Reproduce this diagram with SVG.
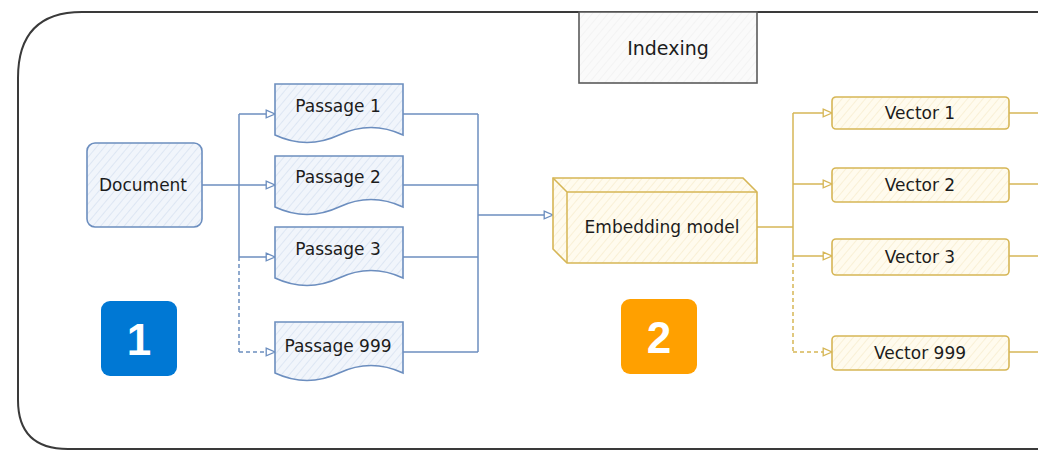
<svg xmlns="http://www.w3.org/2000/svg" width="1038" height="452" viewBox="0 0 1038 452">
  <defs>
    <pattern id="hatchBlue" width="6" height="6" patternUnits="userSpaceOnUse" patternTransform="rotate(40)">
      <rect width="6" height="6" fill="#f1f5fb"/>
      <line x1="0" y1="0" x2="0" y2="6" stroke="#c9d7ec" stroke-width="1"/>
    </pattern>
    <pattern id="hatchYellow" width="6" height="6" patternUnits="userSpaceOnUse" patternTransform="rotate(40)">
      <rect width="6" height="6" fill="#fffbee"/>
      <line x1="0" y1="0" x2="0" y2="6" stroke="#f3e6bf" stroke-width="1"/>
    </pattern>
    <pattern id="hatchGray" width="6" height="6" patternUnits="userSpaceOnUse" patternTransform="rotate(40)">
      <rect width="6" height="6" fill="#fafafa"/>
      <line x1="0" y1="0" x2="0" y2="6" stroke="#ececec" stroke-width="1"/>
    </pattern>
    <marker id="arrowBlue" viewBox="0 0 10 10" refX="9" refY="5" markerWidth="11" markerHeight="11" markerUnits="userSpaceOnUse" orient="auto">
      <path d="M1,1.5 L9,5 L1,8.5 Z" fill="#ffffff" stroke="#6c8ebf" stroke-width="1.2"/>
    </marker>
    <marker id="arrowYellow" viewBox="0 0 10 10" refX="9" refY="5" markerWidth="11" markerHeight="11" markerUnits="userSpaceOnUse" orient="auto">
      <path d="M1,1.5 L9,5 L1,8.5 Z" fill="#ffffff" stroke="#d6b656" stroke-width="1.2"/>
    </marker>
    <style>
      .lbl { font-family: "DejaVu Sans", "Liberation Sans", sans-serif; font-size: 17px; fill: #1c1c1c; text-anchor: middle; dominant-baseline: central; }
      .blueShape { fill: url(#hatchBlue); stroke: #6c8ebf; stroke-width: 1.6; }
      .yellowShape { fill: url(#hatchYellow); stroke: #d6b656; stroke-width: 1.6; }
      .blueLine { fill: none; stroke: #6c8ebf; stroke-width: 1.5; }
      .yellowLine { fill: none; stroke: #d6b656; stroke-width: 1.5; }
      .dash { stroke-dasharray: 4 3; }
      .badge { font-family: "Liberation Sans", Arial, sans-serif; font-size: 44px; font-weight: bold; fill: #ffffff; text-anchor: middle; dominant-baseline: central; }
    </style>
  </defs>

  <rect width="1038" height="452" fill="#ffffff"/>

  <!-- outer frame -->
  <path id="frame" d="M 1040 12 H 82 Q 18 12 18 78 V 400 Q 18 449 68 449 H 1040" fill="none" stroke="#3a3a3a" stroke-width="2"/>

  <!-- title -->
  <g id="indexing">
    <rect x="579" y="12" width="178" height="71" fill="url(#hatchGray)" stroke="#5a5a5a" stroke-width="1.6"/>
    <text class="lbl" x="668" y="48" style="font-size:19px">Indexing</text>
  </g>

  <!-- connectors -->
  <g id="connectors">
    <!-- document to passages -->
    <path class="blueLine" d="M 202 185 H 239"/>
    <path class="blueLine" d="M 239 114 V 257"/>
    <path class="blueLine dash" d="M 239 257 V 352"/>
    <path class="blueLine" d="M 239 114 H 275" marker-end="url(#arrowBlue)"/>
    <path class="blueLine" d="M 239 185 H 275" marker-end="url(#arrowBlue)"/>
    <path class="blueLine" d="M 239 257 H 275" marker-end="url(#arrowBlue)"/>
    <path class="blueLine dash" d="M 239 352 H 275" marker-end="url(#arrowBlue)"/>
    <!-- passages to embedding model -->
    <path class="blueLine" d="M 403 114 H 478"/>
    <path class="blueLine" d="M 403 185 H 478"/>
    <path class="blueLine" d="M 403 257 H 478"/>
    <path class="blueLine" d="M 403 352 H 478"/>
    <path class="blueLine" d="M 478 114 V 352"/>
    <path class="blueLine" d="M 478 215 H 553" stroke-width="2.4" marker-end="url(#arrowBlue)"/>
    <!-- embedding model to vectors -->
    <path class="yellowLine" d="M 757 227 H 793" stroke-width="2"/>
    <path class="yellowLine" d="M 793 113 V 256"/>
    <path class="yellowLine dash" d="M 793 256 V 352"/>
    <path class="yellowLine" d="M 793 113 H 832" marker-end="url(#arrowYellow)"/>
    <path class="yellowLine" d="M 793 184 H 832" marker-end="url(#arrowYellow)"/>
    <path class="yellowLine" d="M 793 256 H 832" marker-end="url(#arrowYellow)"/>
    <path class="yellowLine dash" d="M 793 352 H 832" marker-end="url(#arrowYellow)"/>
    <!-- vectors onward -->
    <path class="yellowLine" d="M 1009 113 H 1040"/>
    <path class="yellowLine" d="M 1009 184 H 1040"/>
    <path class="yellowLine" d="M 1009 256 H 1040"/>
    <path class="yellowLine" d="M 1009 352 H 1040"/>
  </g>

  <!-- source document -->
  <g id="document">
    <rect class="blueShape" x="87" y="143" width="115" height="84" rx="8"/>
    <text class="lbl" x="143" y="185">Document</text>
  </g>

  <!-- passages (document shapes with wavy bottom) -->
  <g id="passage1">
    <path class="blueShape" d="M 275 84 H 403 V 135 Q 371 120 339 135 Q 307 150 275 135 Z"/>
    <text class="lbl" x="338" y="106">Passage 1</text>
  </g>
  <g id="passage2">
    <path class="blueShape" d="M 275 156 H 403 V 207 Q 371 192 339 207 Q 307 222 275 207 Z"/>
    <text class="lbl" x="338" y="177">Passage 2</text>
  </g>
  <g id="passage3">
    <path class="blueShape" d="M 275 227 H 403 V 278 Q 371 263 339 278 Q 307 293 275 278 Z"/>
    <text class="lbl" x="338" y="249">Passage 3</text>
  </g>
  <g id="passage999">
    <path class="blueShape" d="M 275 322 H 403 V 373 Q 371 358 339 373 Q 307 388 275 373 Z"/>
    <text class="lbl" x="338" y="346">Passage 999</text>
  </g>

  <!-- embedding model (cube) -->
  <g id="embedding-model">
    <path class="yellowShape" d="M 553 178 H 743 L 757 192 V 263 H 567 L 553 249 Z"/>
    <path class="yellowLine" d="M 553 178 L 567 192 H 757 M 567 192 V 263" stroke-width="1.4"/>
    <text class="lbl" x="662" y="227">Embedding model</text>
  </g>

  <!-- vectors -->
  <g id="vector1">
    <rect class="yellowShape" x="832" y="97" width="177" height="32" rx="4"/>
    <text class="lbl" x="920" y="113">Vector 1</text>
  </g>
  <g id="vector2">
    <rect class="yellowShape" x="832" y="168" width="177" height="34" rx="4"/>
    <text class="lbl" x="920" y="185">Vector 2</text>
  </g>
  <g id="vector3">
    <rect class="yellowShape" x="832" y="239" width="177" height="36" rx="4"/>
    <text class="lbl" x="920" y="257">Vector 3</text>
  </g>
  <g id="vector999">
    <rect class="yellowShape" x="832" y="336" width="177" height="34" rx="4"/>
    <text class="lbl" x="920" y="353">Vector 999</text>
  </g>

  <!-- step badges -->
  <g id="badge1">
    <rect x="101" y="301" width="76" height="75" rx="9" fill="#0078d4"/>
    <text class="badge" x="139" y="339">1</text>
  </g>
  <g id="badge2">
    <rect x="621" y="299" width="76" height="75" rx="9" fill="#ffa000"/>
    <text class="badge" x="659" y="337">2</text>
  </g>
</svg>
